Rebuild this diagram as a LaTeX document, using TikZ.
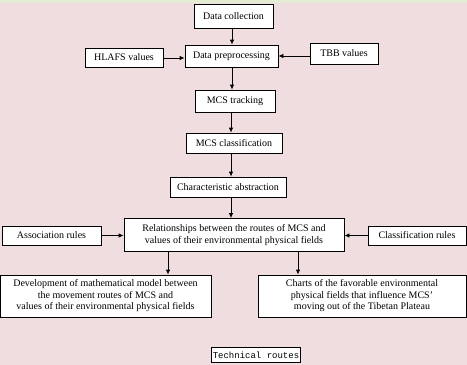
\documentclass[tikz,border=0pt]{standalone}
\usepackage{fontspec}
\setmainfont{Liberation Serif}
\setmonofont{Liberation Mono}
\usetikzlibrary{arrows.meta}
\definecolor{bgpink}{RGB}{240,221,223}
\definecolor{topstrip}{RGB}{229,236,212}
\tikzset{
  box/.style={draw=black, line width=0.8pt, fill=white, inner sep=1pt, font=\fontsize{10}{11.5}\selectfont, align=center},
  arr/.style={draw=black, line width=0.8pt, -{Latex[length=5pt,width=4.5pt]}}
}
\begin{document}
\begin{tikzpicture}[x=1pt,y=1pt]
\fill[bgpink] (0,0) rectangle (467,-365);
\fill[topstrip] (0,0) rectangle (467,-3);
\useasboundingbox (0,0) rectangle (467,-365);

\node[box, minimum width=79pt, minimum height=24pt] (dc) at (233.5,-16) {Data collection};
\node[box, minimum width=78pt, minimum height=19pt] (hl) at (124,-57.5) {HLAFS values};
\node[box, minimum width=93pt, minimum height=22pt] (dp) at (231.5,-56) {Data preprocessing};
\node[box, minimum width=68pt, minimum height=21pt] (tbb) at (344,-53.5) {TBB values};
\node[box, minimum width=80pt, minimum height=22pt] (mt) at (235,-101) {MCS tracking};
\node[box, minimum width=96pt, minimum height=20pt] (mc) at (234,-143) {MCS classification};
\node[box, minimum width=116pt, minimum height=20pt] (ca) at (228,-187) {Characteristic abstraction};
\node[box, minimum width=220pt, minimum height=33pt] (rel) at (234,-235) {Relationships between the routes of MCS and\\values of their environmental physical fields};
\node[box, minimum width=99pt, minimum height=19pt] (ar) at (51.5,-235.5) {Association rules};
\node[box, minimum width=98pt, minimum height=19pt] (cr) at (417,-235.5) {Classification rules};
\node[box, minimum width=211pt, minimum height=42pt] (dev) at (105.5,-296) {Development of mathematical model between\\the movement routes of MCS and\\values of their environmental physical fields};
\node[box, minimum width=208pt, minimum height=42pt] (ch) at (362,-296) {Charts of the favorable environmental\\physical fields that influence MCS'\\moving out of the Tibetan Plateau};
\node[box, line width=0.6pt, minimum width=86pt, minimum height=15pt, font=\ttfamily\fontsize{9}{10}\selectfont] (tr) at (256,-355) {Technical routes};

\coordinate (c1) at (232,0);
\draw[arr] (c1 |- dc.south) -- (c1 |- dp.north);
\draw[arr] (c1 |- dp.south) -- (c1 |- mt.north);
\coordinate (c2) at (231,0);
\draw[arr] (c2 |- mt.south) -- (c2 |- mc.north);
\draw[arr] (c2 |- mc.south) -- (c2 |- ca.north);
\draw[arr] (c2 |- ca.south) -- (c2 |- rel.north);
\coordinate (r1) at (0,-58);
\draw[arr] (hl.east |- r1) -- (dp.west |- r1);
\coordinate (r2) at (0,-56);
\draw[arr] (tbb.west |- r2) -- (dp.east |- r2);
\coordinate (r3) at (0,-235.5);
\draw[arr] (ar.east |- r3) -- (rel.west |- r3);
\draw[arr] (cr.west |- r3) -- (rel.east |- r3);
\coordinate (c3) at (168,0);
\draw[arr] (c3 |- rel.south) -- (c3 |- dev.north);
\coordinate (c4) at (298,0);
\draw[arr] (c4 |- rel.south) -- (c4 |- ch.north);
\end{tikzpicture}
\end{document}
